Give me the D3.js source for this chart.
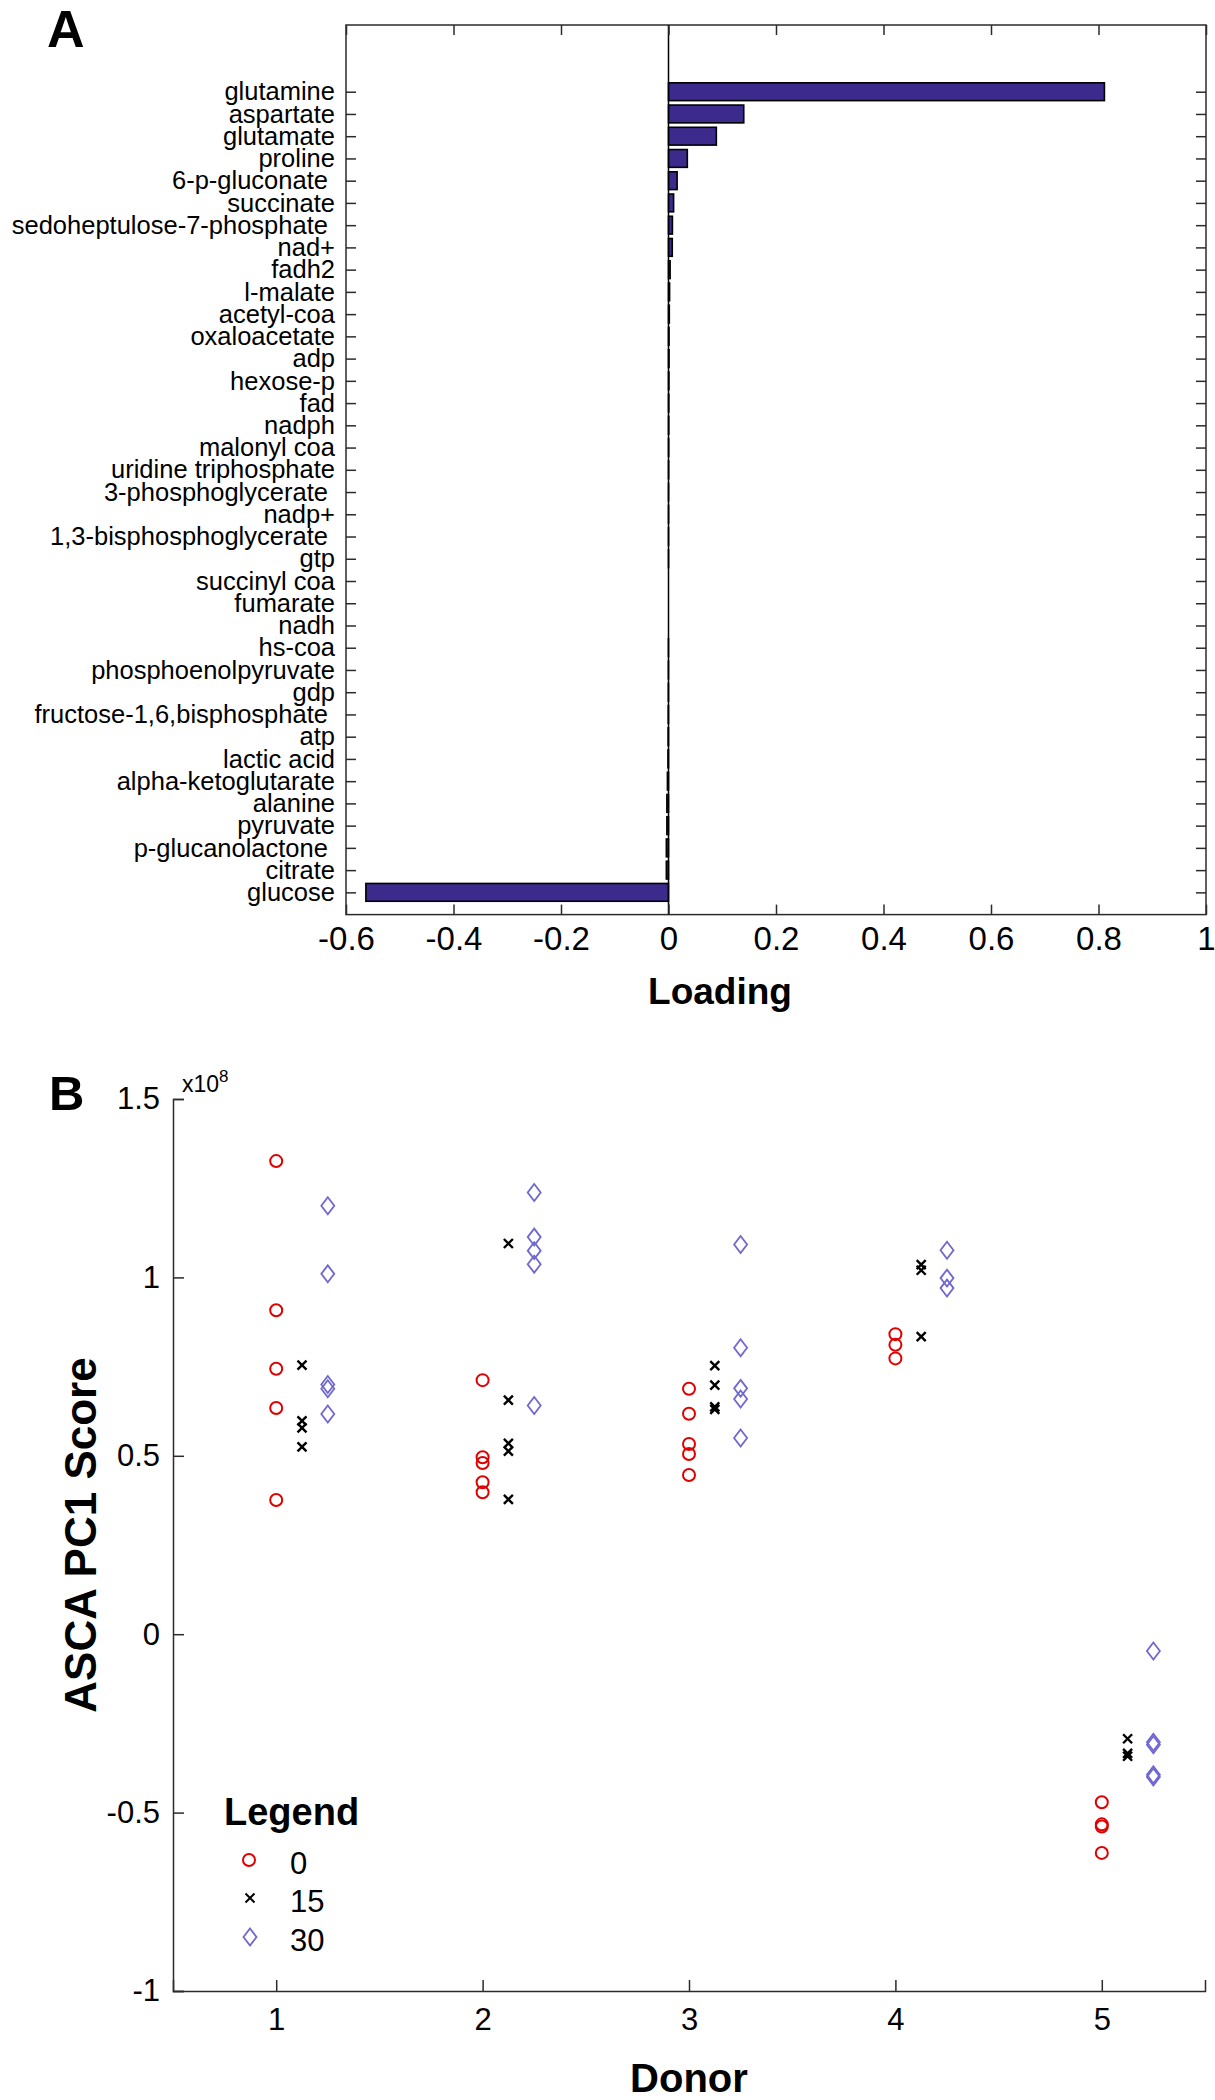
<!DOCTYPE html>
<html>
<head>
<meta charset="utf-8">
<script src="https://cdn.jsdelivr.net/npm/d3@7"></script>
<style>
  body { margin: 0; background: #fff; }
  text { font-family: "Liberation Sans", Arial, Helvetica, sans-serif; fill: #000; }
</style>
</head>
<body>
<svg id="chart" width="1215" height="2100"></svg>
<script>
// ---- panel A: PC1 loadings, top to bottom ----
var metabolites = ["glutamine", "aspartate", "glutamate", "proline", "6-p-gluconate ",
  "succinate", "sedoheptulose-7-phosphate ", "nad+", "fadh2", "l-malate", "acetyl-coa",
  "oxaloacetate", "adp", "hexose-p", "fad", "nadph", "malonyl coa", "uridine triphosphate",
  "3-phosphoglycerate ", "nadp+", "1,3-bisphosphoglycerate ", "gtp", "succinyl coa",
  "fumarate", "nadh", "hs-coa", "phosphoenolpyruvate", "gdp", "fructose-1,6,bisphosphate ",
  "atp", "lactic acid", "alpha-ketoglutarate", "alanine", "pyruvate", "p-glucanolactone ",
  "citrate", "glucose"];
var loadings = [0.811, 0.140, 0.089, 0.035, 0.016, 0.0095, 0.0073, 0.007, 0.003, 0.002,
  0.0015, 0.001, 0.001, 0.0008, 0.0006, 0.0005, 0.0004, 0.0003, 0.0002, 0.0002, 0.0001,
  0.0001, 0, 0, 0, -0.0001, -0.0002, -0.0003, -0.0005, -0.0007, -0.001, -0.002, -0.003,
  -0.003, -0.004, -0.004, -0.563];
var loadingTicks = [-0.6, -0.4, -0.2, 0, 0.2, 0.4, 0.6, 0.8, 1];

// ---- panel B: ASCA PC1 scores (x10^8) per donor and time ----
var donors = [1, 2, 3, 4, 5];
var scores0 = [
  [1.326, 0.908, 0.744, 0.634, 0.376],
  [0.712, 0.496, 0.480, 0.426, 0.398],
  [0.688, 0.618, 0.533, 0.505, 0.446],
  [0.841, 0.811, 0.773],
  [-0.471, -0.533, -0.539, -0.613]
];
var scores15 = [
  [0.754, 0.598, 0.578, 0.525],
  [1.095, 0.656, 0.535, 0.513, 0.378],
  [0.753, 0.698, 0.637, 0.630],
  [1.036, 1.020, 0.834],
  [-0.293, -0.334, -0.342]
];
var scores30 = [
  [1.201, 1.010, 0.700, 0.688, 0.617],
  [1.238, 1.113, 1.075, 1.037, 0.641],
  [1.092, 0.803, 0.689, 0.659, 0.550],
  [1.076, 0.998, 0.970],
  [-0.047, -0.303, -0.310, -0.394, -0.400]
];
var scoreTicks = [-1, -0.5, 0, 0.5, 1, 1.5];
var timeLabels = ["0", "15", "30"];

var svg = d3.select("#chart");
var axisColor = "#2b2b2b";
var fmt = function(d) { return String(+d.toFixed(1)); };

// ================= panel A =================
var xA = d3.scaleLinear().domain([-0.6, 1]).range([346, 1206]);
var yA = d3.scaleLinear().domain([0, 40]).range([914.6, 25]);
var pos = function(i) { return metabolites.length - i; };
var gA = svg.append("g");

gA.append("text").attr("x", 47).attr("y", 47)
  .style("font-size", "52px").style("font-weight", "bold").text("A");

gA.append("rect").attr("x", xA(-0.6)).attr("y", yA(40))
  .attr("width", xA(1) - xA(-0.6)).attr("height", yA(0) - yA(40))
  .attr("fill", "none").attr("stroke", axisColor).attr("stroke-width", 1.5);

var barH = yA(0) - yA(0.8);
gA.selectAll("rect.bar").data(loadings).enter().append("rect")
  .attr("class", "bar")
  .attr("x", function(d) { return xA(Math.min(0, d)); })
  .attr("y", function(d, i) { return yA(pos(i)) - barH / 2; })
  .attr("width", function(d) { return Math.abs(xA(d) - xA(0)); })
  .attr("height", barH)
  .attr("fill", "#3c2b8d").attr("stroke", "#000").attr("stroke-width", 1.6);

gA.append("line").attr("x1", xA(0)).attr("x2", xA(0))
  .attr("y1", yA(40)).attr("y2", yA(0))
  .attr("stroke", "#000").attr("stroke-width", 1.5);

var axA = gA.append("g").attr("transform", "translate(0," + yA(0) + ")")
  .call(d3.axisBottom(xA).tickValues(loadingTicks).tickSize(-10).tickPadding(12).tickFormat(fmt));
gA.append("g").attr("transform", "translate(0," + yA(40) + ")")
  .call(d3.axisTop(xA).tickValues(loadingTicks).tickSize(-10).tickFormat(""));
var ayA = gA.append("g").attr("transform", "translate(" + xA(-0.6) + ",0)")
  .call(d3.axisLeft(yA).tickValues(d3.range(1, 38)).tickSize(-10).tickPadding(11)
    .tickFormat(function(d) { return metabolites[metabolites.length - d]; }));
gA.append("g").attr("transform", "translate(" + xA(1) + ",0)")
  .call(d3.axisRight(yA).tickValues(d3.range(1, 38)).tickSize(-10).tickFormat(""));

gA.selectAll(".domain").remove();
gA.selectAll(".tick line").attr("stroke", axisColor).attr("stroke-width", 1.5);
axA.selectAll("text").style("font-size", "33px").attr("fill", "#000");
ayA.selectAll("text").style("font-size", "25.5px").style("white-space", "pre").attr("fill", "#000");

gA.append("text").attr("x", 720).attr("y", 1004).attr("text-anchor", "middle")
  .style("font-size", "37px").style("font-weight", "bold").text("Loading");

// ================= panel B =================
var xB = d3.scaleLinear().domain([0.5, 5.5]).range([173, 1205]);
var yB = d3.scaleLinear().domain([-1, 1.5]).range([1991, 1099]);
var gB = svg.append("g");

gB.append("text").attr("x", 49).attr("y", 1110)
  .style("font-size", "49px").style("font-weight", "bold").text("B");

var axB = gB.append("g").attr("transform", "translate(0," + yB(-1) + ")")
  .call(d3.axisBottom(xB).tickValues(donors).tickSize(-11).tickPadding(17).tickFormat(d3.format("d")));
var ayB = gB.append("g").attr("transform", "translate(" + xB(0.5) + ",0)")
  .call(d3.axisLeft(yB).tickValues(scoreTicks).tickSize(-11).tickPadding(13).tickFormat(fmt));
gB.selectAll(".domain").attr("stroke", axisColor).attr("stroke-width", 1.5);
gB.selectAll(".tick line").attr("stroke", axisColor).attr("stroke-width", 1.5);
gB.selectAll(".tick text").style("font-size", "31px").attr("fill", "#000");

var expo = gB.append("text").attr("x", 182).attr("y", 1092).style("font-size", "23px");
expo.append("tspan").text("x10");
expo.append("tspan").attr("dy", -10).style("font-size", "17px").text("8");

gB.append("text").attr("transform", "translate(96,1535) rotate(-90)")
  .attr("text-anchor", "middle").style("font-size", "44px").style("font-weight", "bold")
  .text("ASCA PC1 Score");
gB.append("text").attr("x", xB(3)).attr("y", 2092).attr("text-anchor", "middle")
  .style("font-size", "40px").style("font-weight", "bold").text("Donor");

function flat(groups, offset) {
  var out = [];
  groups.forEach(function(vals, k) {
    vals.forEach(function(v) { out.push({ x: donors[k] + offset, y: v }); });
  });
  return out;
}
var red = "#e00000", blue = "#7068cf";
var diamond = "M0,-8.5L6.5,0L0,8.5L-6.5,0Z";
var cross = "M-4.5,-4.5L4.5,4.5M-4.5,4.5L4.5,-4.5";

gB.selectAll("circle.t0").data(flat(scores0, 0)).enter().append("circle")
  .attr("class", "t0").attr("cx", function(d) { return xB(d.x); })
  .attr("cy", function(d) { return yB(d.y); }).attr("r", 6)
  .attr("fill", "none").attr("stroke", red).attr("stroke-width", 2);
gB.selectAll("path.t15").data(flat(scores15, 0.125)).enter().append("path")
  .attr("class", "t15").attr("d", cross)
  .attr("transform", function(d) { return "translate(" + xB(d.x) + "," + yB(d.y) + ")"; })
  .attr("stroke", "#000").attr("stroke-width", 2.4);
gB.selectAll("path.t30").data(flat(scores30, 0.25)).enter().append("path")
  .attr("class", "t30").attr("d", diamond)
  .attr("transform", function(d) { return "translate(" + xB(d.x) + "," + yB(d.y) + ")"; })
  .attr("fill", "none").attr("stroke", blue).attr("stroke-width", 1.8);

// legend
var lg = gB.append("g");
lg.append("text").attr("x", 224).attr("y", 1825)
  .style("font-size", "38px").style("font-weight", "bold").text("Legend");
var legendY = [1860, 1898, 1937];
lg.append("circle").attr("cx", 249).attr("cy", legendY[0]).attr("r", 6)
  .attr("fill", "none").attr("stroke", red).attr("stroke-width", 2);
lg.append("path").attr("d", cross).attr("transform", "translate(250," + legendY[1] + ")")
  .attr("stroke", "#000").attr("stroke-width", 2);
lg.append("path").attr("d", diamond).attr("transform", "translate(250," + legendY[2] + ")")
  .attr("fill", "none").attr("stroke", blue).attr("stroke-width", 1.8);
lg.selectAll("text.lab").data(timeLabels).enter().append("text")
  .attr("class", "lab").attr("x", 290)
  .attr("y", function(d, i) { return legendY[i] + 3; }).attr("dy", "0.35em")
  .style("font-size", "31px").text(function(d) { return d; });
</script>
</body>
</html>
